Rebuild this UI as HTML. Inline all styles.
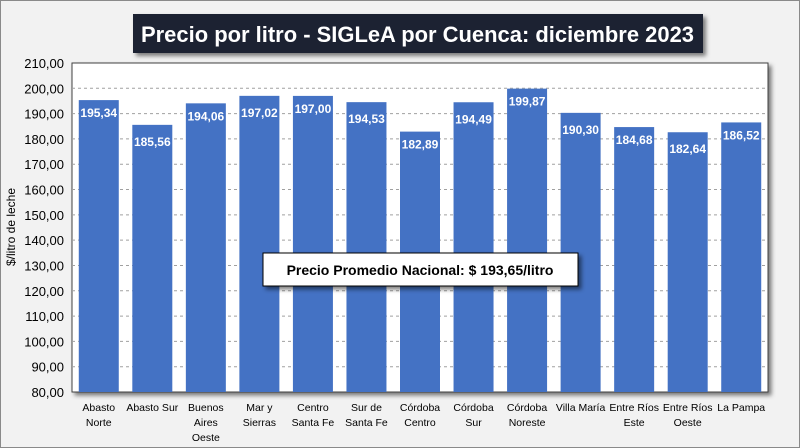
<!DOCTYPE html>
<html><head><meta charset="utf-8"><style>
body{margin:0;background:#fff}
#wrap{position:relative;width:798px;height:446px;border:1px solid #8a8a8a;background:#f2f2f2;overflow:hidden;font-family:"Liberation Sans",Calibri,sans-serif}
text{font-family:"Liberation Sans",sans-serif}
</style></head><body>
<div id="wrap">
<svg id="chart" width="798" height="446"></svg>
</div>
<script>
const categories=[["Abasto","Norte"],["Abasto Sur"],["Buenos","Aires","Oeste"],["Mar y","Sierras"],["Centro","Santa Fe"],["Sur de","Santa Fe"],["Córdoba","Centro"],["Córdoba","Sur"],["Córdoba","Noreste"],["Villa María"],["Entre Ríos","Este"],["Entre Ríos","Oeste"],["La Pampa"]];
const values=[195.34,185.56,194.06,197.02,197.00,194.53,182.89,194.49,199.87,190.30,184.68,182.64,186.52];
const valueLabels=["195,34","185,56","194,06","197,02","197,00","194,53","182,89","194,49","199,87","190,30","184,68","182,64","186,52"];
const yTicks=[80,90,100,110,120,130,140,150,160,170,180,190,200,210];
const yTickLabels=["80,00","90,00","100,00","110,00","120,00","130,00","140,00","150,00","160,00","170,00","180,00","190,00","200,00","210,00"];
const NS="http://www.w3.org/2000/svg";
const svg=document.getElementById('chart');
const L=71,R=767,T=62,B=391,ymin=80,ymax=210;
const y=v=>B-(v-ymin)/(ymax-ymin)*(B-T);
const bw=(R-L)/categories.length;
const x=i=>L+bw*i+bw/2;
function mk(tag,attrs,parent){const e=document.createElementNS(NS,tag);for(const k in attrs)e.setAttribute(k,attrs[k]);(parent||svg).appendChild(e);return e;}
const defs=mk('defs',{});
defs.innerHTML='<filter id="sh" x="-5%" y="-5%" width="115%" height="130%"><feDropShadow dx="3" dy="3" stdDeviation="2" flood-color="#000" flood-opacity="0.5"/></filter>';
let tb=mk('rect',{x:132,y:13,width:570,height:39,fill:'#1c2230',filter:'url(#sh)'});

let tt=mk('text',{x:140,y:41,'font-size':22,'font-weight':'bold',fill:'#fff',textLength:553,lengthAdjust:'spacingAndGlyphs'});
tt.textContent='Precio por litro - SIGLeA por Cuenca: diciembre 2023';

let pa=mk('rect',{x:L,y:T,width:R-L,height:B-T,fill:'#fff',stroke:'#404040','stroke-width':1,filter:'url(#sh)'});

yTicks.forEach((t,i)=>{
  if(t>ymin&&t<ymax){let g=mk('line',{x1:L,x2:R,y1:y(t),y2:y(t),stroke:'#a0a0a0','stroke-dasharray':'3,3'});
  }
  let tl=mk('text',{x:L-8,y:y(t)+5,'text-anchor':'end','font-size':13,fill:'#000'});
  tl.textContent=yTickLabels[i];
  
});
let yt=mk('text',{x:14,y:226,'text-anchor':'middle','font-size':12,fill:'#000',transform:'rotate(-90 14 226)'});
yt.textContent='$/litro de leche';

values.forEach((v,i)=>{
  let b=mk('rect',{x:x(i)-20,y:y(v),width:40,height:B-y(v),fill:'#4472c4'});
  
  let vl=mk('text',{x:x(i),y:y(v)+(i%2==0?17:21),'text-anchor':'middle','font-size':12,'font-weight':'bold',fill:'#fff'});
  vl.textContent=valueLabels[i];
  
  categories[i].forEach((ln,j)=>{
    let cl=mk('text',{x:x(i),y:B+19+j*15,'text-anchor':'middle','font-size':10.5,fill:'#000'});
    cl.textContent=ln;
    
  });
});
let ab=mk('rect',{x:262,y:252,width:315,height:33,fill:'#fff',stroke:'#000','stroke-width':1,filter:'url(#sh)'});

let at=mk('text',{x:419,y:274,'text-anchor':'middle','font-size':14,'font-weight':'bold',fill:'#000'});
at.textContent='Precio Promedio Nacional: $ 193,65/litro';

</script>
</body></html>
